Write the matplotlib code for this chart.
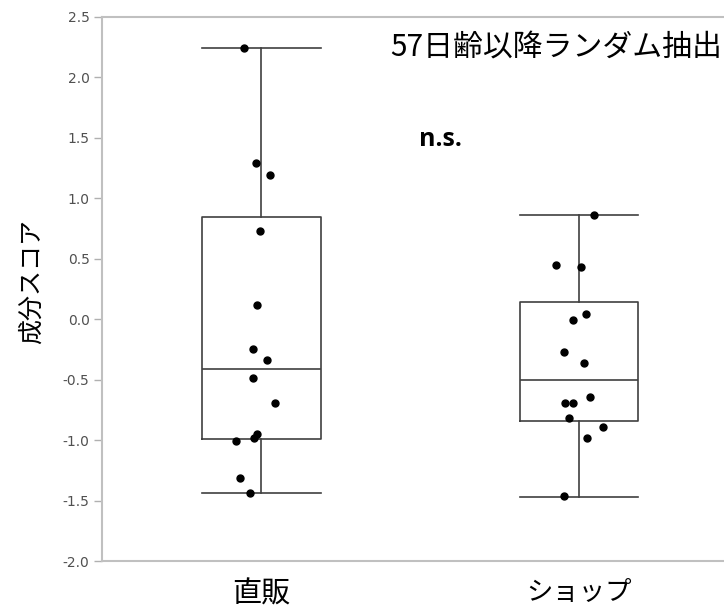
import matplotlib
matplotlib.use('Agg')
import matplotlib.pyplot as plt

plt.rcParams['font.family'] = ['Noto Sans CJK JP', 'DejaVu Sans']

# カテゴリと箱ひげの統計値
groups = ['直販', 'ショップ']
whis_hi = [2.24, 0.862]
q3 = [0.848, 0.143]
median = [-0.414, -0.50]
q1 = [-0.99, -0.842]
whis_lo = [-1.44, -1.468]

# 各点の値
direct_vals = [2.24, 1.29, 1.19, 0.73, 0.12, -0.25, -0.34, -0.49, -0.69,
               -0.95, -0.98, -1.01, -1.31, -1.44]
shop_vals = [0.862, 0.45, 0.435, 0.043, -0.01, -0.27, -0.36, -0.64, -0.69,
             -0.69, -0.82, -0.89, -0.98, -1.465]
# 横方向のばらつき（カテゴリ単位）
direct_jit = [-0.053, -0.016, 0.028, -0.003, -0.012, -0.025, 0.020, -0.026,
              0.043, -0.014, -0.022, -0.079, -0.067, -0.035]
shop_jit = [0.046, -0.072, 0.006, 0.021, -0.019, -0.048, 0.015, 0.035,
            -0.043, -0.020, -0.032, 0.075, 0.025, -0.048]

yticks = [2.5, 2.0, 1.5, 1.0, 0.5, 0.0, -0.5, -1.0, -1.5, -2.0]

fig = plt.figure(figsize=(7.24, 6.10), dpi=100)
ax = fig.add_axes([0.141, 0.0803, 0.859, 0.892])

stats = []
for i in range(len(groups)):
    stats.append({'med': median[i], 'q1': q1[i], 'q3': q3[i],
                  'whislo': whis_lo[i], 'whishi': whis_hi[i], 'fliers': []})

line_c = '#404040'
ax.bxp(stats, positions=[0, 1], widths=0.374, capwidths=0.374,
       showfliers=False,
       boxprops=dict(color=line_c, linewidth=1.2),
       medianprops=dict(color=line_c, linewidth=1.2),
       whiskerprops=dict(color=line_c, linewidth=1.2),
       capprops=dict(color=line_c, linewidth=1.2))

for pos, vals, jit in [(0, direct_vals, direct_jit), (1, shop_vals, shop_jit)]:
    xs = [pos + j for j in jit]
    ax.plot(xs, vals, 'o', color='black', markersize=5, zorder=3)

ax.set_xlim(-0.5, 1.456)
ax.set_ylim(-2.0, 2.5)
ax.set_yticks(yticks)
ax.set_yticklabels([f'{t:.1f}' for t in yticks], fontsize=10, color='#505050',
                   family='DejaVu Sans')
ax.set_xticks([0, 1])
ax.set_xticklabels(groups)
# ラベルごとに大きさを調整
ax.get_xticklabels()[0].set_fontsize(21)
ax.get_xticklabels()[1].set_fontsize(19)
ax.tick_params(axis='x', length=0, pad=13)
ax.tick_params(axis='y', length=6, color='#b0b0b0', width=1, pad=3)

for s in ['left', 'top', 'bottom']:
    ax.spines[s].set_color('#c0c0c0')
    ax.spines[s].set_linewidth(1.5)
ax.spines['right'].set_visible(False)

ax.set_ylabel('成分スコア', fontsize=18)
ax.yaxis.set_label_coords(-0.092, 0.513)

ax.text(0.997, 0.944, '57日齢以降ランダム抽出', transform=ax.transAxes,
        ha='right', va='center', fontsize=21.5)
ax.text(0.544, 0.775, 'n.s.', transform=ax.transAxes, ha='center',
        va='center', fontsize=18, fontweight='bold', family='Open Sans')

fig.savefig('out.png', dpi=100)
